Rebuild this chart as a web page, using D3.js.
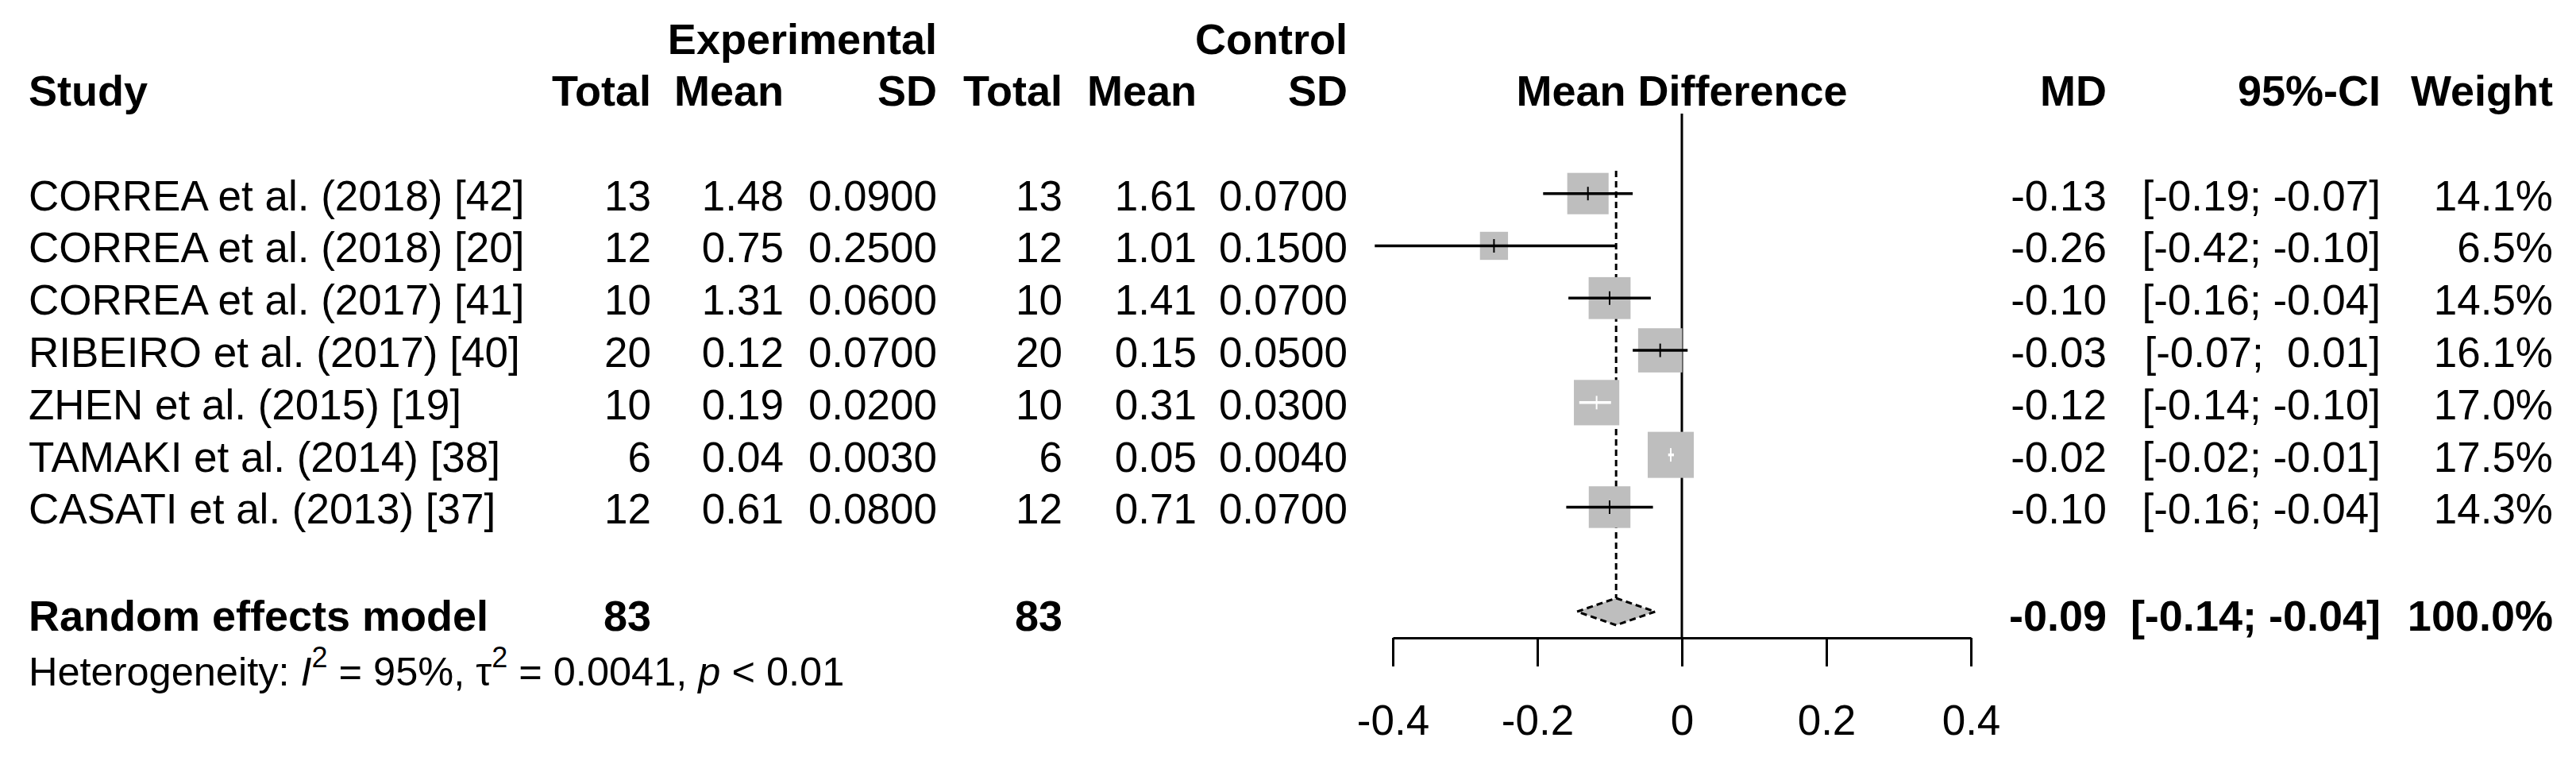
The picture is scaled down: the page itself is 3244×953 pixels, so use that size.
<!DOCTYPE html>
<html>
<head>
<meta charset="utf-8">
<script src="https://cdn.jsdelivr.net/npm/d3@7"></script>
<style>
  body { margin: 0; background: #fff; }
  svg text { font-family: "Liberation Sans", Arial, sans-serif; fill: #000; white-space: pre; }
</style>
</head>
<body>
<div id="forest"></div>
<script>
// study data
var studies = ["CORREA et al. (2018) [42]", "CORREA et al. (2018) [20]", "CORREA et al. (2017) [41]",
  "RIBEIRO et al. (2017) [40]", "ZHEN et al. (2015) [19]", "TAMAKI et al. (2014) [38]", "CASATI et al. (2013) [37]"];
var expTotal = [13, 12, 10, 20, 10, 6, 12];
var expMean = [1.48, 0.75, 1.31, 0.12, 0.19, 0.04, 0.61];
var expSD = [0.09, 0.25, 0.06, 0.07, 0.02, 0.003, 0.08];
var ctrlTotal = [13, 12, 10, 20, 10, 6, 12];
var ctrlMean = [1.61, 1.01, 1.41, 0.15, 0.31, 0.05, 0.71];
var ctrlSD = [0.07, 0.15, 0.07, 0.05, 0.03, 0.004, 0.07];
var md = [-0.13, -0.26, -0.10, -0.03, -0.118, -0.0154, -0.10];
var lower = [-0.192, -0.425, -0.157, -0.068, -0.142, -0.019, -0.160];
var upper = [-0.068, -0.092, -0.043, 0.008, -0.098, -0.011, -0.040];
var mdLabels = ["-0.13", "-0.26", "-0.10", "-0.03", "-0.12", "-0.02", "-0.10"];
var ciLabels = ["[-0.19; -0.07]", "[-0.42; -0.10]", "[-0.16; -0.04]", "[-0.07;  0.01]",
  "[-0.14; -0.10]", "[-0.02; -0.01]", "[-0.16; -0.04]"];
var weight = [14.1, 6.5, 14.5, 16.1, 17.0, 17.5, 14.3];

// pooled (random effects)
var pooledMD = -0.091, pooledLower = -0.145, pooledUpper = -0.037;
var pooledLabels = ["Random effects model", "83", "83", "-0.09", "[-0.14; -0.04]", "100.0%"];
var axisTicks = [-0.4, -0.2, 0, 0.2, 0.4];

var svgWidth = 3244, svgHeight = 953;
var svg = d3.select("#forest").append("svg")
  .attr("width", svgWidth)
  .attr("height", svgHeight);

svg.append("rect").attr("width", svgWidth).attr("height", svgHeight).attr("fill", "#fff");

var x = d3.scaleLinear().domain([-0.4, 0.4]).range([1754, 2482]);
// row index -> y  (rows 1..7 studies, 9 pooled)
var rowY = d3.scaleLinear().domain([1, 9]).range([243.7, 770]);
var boxSize = d3.scaleSqrt().domain([0, 17.5]).range([0, 58]);

var fs = 53, fsBold = 54;
var col = {
  study: 36, eTotal: 820, eMean: 987, eSD: 1180,
  cTotal: 1338, cMean: 1507, cSD: 1697,
  md: 2653, ci: 2998, weight: 3215
};

function label(txt, xx, yy, anchor, bold, size) {
  return svg.append("text")
    .attr("x", xx)
    .attr("y", yy)
    .attr("text-anchor", anchor)
    .style("font-size", (size || (bold ? fsBold : fs)) + "px")
    .style("font-weight", bold ? "bold" : "normal")
    .text(txt);
}

// headers
label("Experimental", col.eSD, 68, "end", true);
label("Control", col.cSD, 68, "end", true);
label("Study", col.study, 133, "start", true);
label("Total", col.eTotal, 133, "end", true);
label("Mean", col.eMean, 133, "end", true);
label("SD", col.eSD, 133, "end", true);
label("Total", col.cTotal, 133, "end", true);
label("Mean", col.cMean, 133, "end", true);
label("SD", col.cSD, 133, "end", true);
label("Mean Difference", x(0), 133, "middle", true);
label("MD", col.md, 133, "end", true);
label("95%-CI", col.ci, 133, "end", true);
label("Weight", col.weight, 133, "end", true);

var f2 = d3.format(".2f"), f4 = d3.format(".4f"), f1 = d3.format(".1f");

// study rows text
studies.forEach(function(s, i) {
  var yb = rowY(i + 1) + 21;
  label(s, col.study, yb, "start", false);
  label(expTotal[i], col.eTotal, yb, "end", false);
  label(f2(expMean[i]), col.eMean, yb, "end", false);
  label(f4(expSD[i]), col.eSD, yb, "end", false);
  label(ctrlTotal[i], col.cTotal, yb, "end", false);
  label(f2(ctrlMean[i]), col.cMean, yb, "end", false);
  label(f4(ctrlSD[i]), col.cSD, yb, "end", false);
  label(mdLabels[i], col.md, yb, "end", false);
  label(ciLabels[i], col.ci, yb, "end", false);
  label(f1(weight[i]) + "%", col.weight, yb, "end", false);
});

// pooled row text
var yp = rowY(9);
label(pooledLabels[0], col.study, yp + 24, "start", true);
label(pooledLabels[1], col.eTotal, yp + 24, "end", true);
label(pooledLabels[2], col.cTotal, yp + 24, "end", true);
label(pooledLabels[3], col.md, yp + 24, "end", true);
label(pooledLabels[4], col.ci, yp + 24, "end", true);
label(pooledLabels[5], col.weight, yp + 24, "end", true);

// heterogeneity
var het = svg.append("text")
  .attr("x", col.study)
  .attr("y", 863)
  .style("font-size", "50.5px");
het.append("tspan").text("Heterogeneity: ");
het.append("tspan").style("font-style", "italic").text("I");
het.append("tspan").attr("dy", -23).style("font-size", "36px").text("2");
het.append("tspan").attr("dy", 23).text(" = 95%, \u03c4");
het.append("tspan").attr("dy", -23).style("font-size", "36px").text("2");
het.append("tspan").attr("dy", 23).text(" = 0.0041, ");
het.append("tspan").style("font-style", "italic").text("p");
het.append("tspan").text(" < 0.01");

// zero line
svg.append("line")
  .attr("x1", x(0)).attr("x2", x(0))
  .attr("y1", 143).attr("y2", 803)
  .attr("stroke", "#000").attr("stroke-width", 3);

// pooled estimate dashed line
svg.append("line")
  .attr("x1", x(pooledMD)).attr("x2", x(pooledMD))
  .attr("y1", 215).attr("y2", yp - 17)
  .attr("stroke", "#000").attr("stroke-width", 3)
  .attr("stroke-dasharray", "8,5");

// study squares and CIs
var rows = svg.append("g").selectAll("g")
  .data(studies.map(function(s, i) { return i; }))
  .enter()
  .append("g");

rows.append("rect")
  .attr("x", function(i) { return x(md[i]) - boxSize(weight[i]) / 2; })
  .attr("y", function(i) { return rowY(i + 1) - boxSize(weight[i]) / 2; })
  .attr("width", function(i) { return boxSize(weight[i]); })
  .attr("height", function(i) { return boxSize(weight[i]); })
  .attr("fill", "#bebebe");

function ciColor(i) {
  var h = boxSize(weight[i]) / 2;
  return (x(lower[i]) >= x(md[i]) - h && x(upper[i]) <= x(md[i]) + h) ? "#fff" : "#000";
}

rows.append("line")
  .attr("x1", function(i) { return x(lower[i]); })
  .attr("x2", function(i) { return x(upper[i]); })
  .attr("y1", function(i) { return rowY(i + 1); })
  .attr("y2", function(i) { return rowY(i + 1); })
  .attr("stroke", ciColor)
  .attr("stroke-width", 3.5);

rows.append("line")
  .attr("x1", function(i) { return x(md[i]); })
  .attr("x2", function(i) { return x(md[i]); })
  .attr("y1", function(i) { return rowY(i + 1) - 8.5; })
  .attr("y2", function(i) { return rowY(i + 1) + 8.5; })
  .attr("stroke", ciColor)
  .attr("stroke-width", 2);

// diamond
svg.append("polygon")
  .attr("points", [
    [x(pooledLower), yp], [x(pooledMD), yp - 17],
    [x(pooledUpper), yp], [x(pooledMD), yp + 17]
  ].map(function(p) { return p.join(","); }).join(" "))
  .attr("fill", "#bebebe")
  .attr("stroke", "#000")
  .attr("stroke-width", 3)
  .attr("stroke-dasharray", "8,5");

// x axis
var xAxis = svg.append("g")
  .attr("transform", "translate(0, 803)")
  .call(d3.axisBottom(x)
    .tickValues(axisTicks)
    .tickSize(36)
    .tickSizeOuter(0)
    .tickPadding(48)
    .tickFormat(function(d) { return String(d); }));

xAxis.select(".domain").attr("stroke-width", 3);
xAxis.selectAll(".tick line").attr("stroke-width", 3);
xAxis.selectAll(".tick text")
  .style("font-size", fs + "px")
  .style("font-family", "'Liberation Sans', Arial, sans-serif");
</script>
</body>
</html>
